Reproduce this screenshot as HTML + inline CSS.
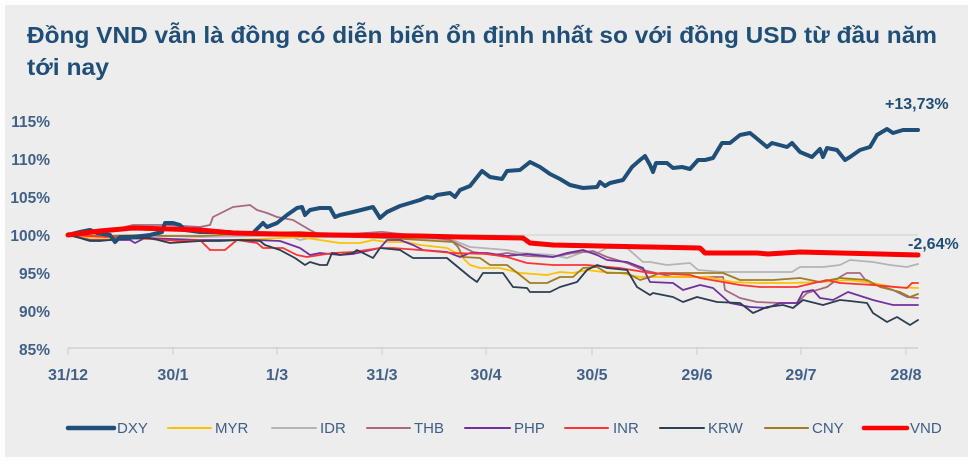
<!DOCTYPE html>
<html>
<head>
<meta charset="utf-8">
<style>
  html,body{margin:0;padding:0;background:#ffffff;}
  svg{display:block;}
  text{font-family:"Liberation Sans","DejaVu Sans",sans-serif;}
</style>
</head>
<body>
<svg width="975" height="464" viewBox="0 0 975 464" xmlns="http://www.w3.org/2000/svg">
  <rect x="0" y="0" width="975" height="464" fill="#ffffff"/>
  <rect x="5" y="5" width="963" height="452" fill="#ededed"/>

  <!-- Title -->
  <text x="27" y="43" font-size="23" font-weight="bold" fill="#1f4e79" textLength="910" lengthAdjust="spacingAndGlyphs">Đồng VND vẫn là đồng có diễn biến ổn định nhất so với đồng USD từ đầu năm</text>
  <text x="27" y="75" font-size="23" font-weight="bold" fill="#1f4e79" textLength="82" lengthAdjust="spacingAndGlyphs">tới nay</text>

  <!-- Y axis labels -->
  <g font-size="15.5" font-weight="bold" fill="#41618a" text-anchor="end">
    <text x="50" y="127">115%</text>
    <text x="50" y="165">110%</text>
    <text x="50" y="203">105%</text>
    <text x="50" y="241">100%</text>
    <text x="50" y="279">95%</text>
    <text x="50" y="317">90%</text>
    <text x="50" y="355">85%</text>
  </g>

  <!-- gridline 100% -->
  <line x1="68" y1="235" x2="918" y2="235" stroke="#d6d6d6" stroke-width="1.2"/>
  <!-- x axis -->
  <line x1="68" y1="348" x2="918" y2="348" stroke="#d0d0d0" stroke-width="1.5"/>
  <g stroke="#d0d0d0" stroke-width="1.2">
    <line x1="68" y1="348" x2="68" y2="355"/>
    <line x1="173" y1="348" x2="173" y2="355"/>
    <line x1="277" y1="348" x2="277" y2="355"/>
    <line x1="382" y1="348" x2="382" y2="355"/>
    <line x1="486" y1="348" x2="486" y2="355"/>
    <line x1="592" y1="348" x2="592" y2="355"/>
    <line x1="697" y1="348" x2="697" y2="355"/>
    <line x1="801" y1="348" x2="801" y2="355"/>
    <line x1="906" y1="348" x2="906" y2="355"/>
  </g>
  <g font-size="16" font-weight="bold" fill="#41618a" text-anchor="middle">
    <text x="68" y="380">31/12</text>
    <text x="173" y="380">30/1</text>
    <text x="277" y="380">1/3</text>
    <text x="382" y="380">31/3</text>
    <text x="486" y="380">30/4</text>
    <text x="592" y="380">30/5</text>
    <text x="697" y="380">29/6</text>
    <text x="801" y="380">29/7</text>
    <text x="906" y="380">28/8</text>
  </g>

  <g fill="none" stroke-linejoin="round" stroke-linecap="round">
    <!-- IDR -->
    <polyline stroke="#b4b4b4" stroke-width="1.8" points="68,235 120,237 170,236 200,237 260,236 290,236 300,240 310,238 320,237 387,237 453,240 470,247 507,250 520,253 553,255 567,258 583,252 597,253 607,248 627,248 643,262 650,262 667,265 690,263 698,270 723,272 757,272 792,272 800,267 823,267 840,265 850,260 873,262 890,265 907,267 918,264"/>
    <!-- THB -->
    <polyline stroke="#a86880" stroke-width="1.8" points="68,235 100,233 133,225 167,225 200,227 210,225 213,217 233,207 250,205 257,210 267,213 277,217 293,220 310,230 320,235 350,234 380,232 383,232 420,236 450,240 463,247 473,252 493,255 507,253 527,256 553,257 573,253 593,251 607,257 627,263 643,270 673,277 700,277 723,277 725,290 740,298 757,302 780,303 797,303 807,293 817,290 827,287 840,277 847,273 860,273 867,282 877,285 893,290 907,297 918,298"/>
    <!-- MYR -->
    <polyline stroke="#ffc000" stroke-width="1.8" points="68,235 90,238 130,238 150,239 200,241 260,239 300,237 320,240 340,243 360,243 373,240 387,242 407,242 420,245 447,248 460,255 470,265 480,268 500,268 520,273 547,275 560,272 573,273 587,270 603,272 620,273 640,277 673,277 707,277 733,282 757,283 790,283 823,282 847,280 873,283 893,287 918,288"/>
    <!-- CNY -->
    <polyline stroke="#9e7d24" stroke-width="1.8" points="68,235 100,236 150,235 165,236 200,236 260,233 300,232 330,234 353,237 387,238 420,240 453,242 458,247 463,257 480,258 490,265 507,265 520,275 530,283 547,283 560,277 573,277 583,268 597,267 607,273 627,273 640,280 650,277 660,273 723,273 740,280 773,280 800,278 820,282 840,278 867,280 880,287 900,292 910,297 918,294"/>
    <!-- PHP -->
    <polyline stroke="#7030a0" stroke-width="1.8" points="68,235 90,240 130,240 135,243 145,238 200,240 230,240 255,240 280,241 300,248 310,255 320,253 340,255 353,254 380,248 387,240 400,240 413,245 423,250 447,252 460,257 470,253 487,253 507,256 527,254 553,257 567,253 583,250 597,255 607,260 627,262 643,268 650,282 673,283 683,290 700,285 713,288 730,303 750,307 767,308 780,303 797,303 803,292 813,290 820,298 833,300 848,292 873,300 893,305 918,305"/>
    <!-- INR -->
    <polyline stroke="#ff3333" stroke-width="1.8" points="68,235 150,239 180,241 200,240 210,250 225,250 237,240 257,243 263,248 283,248 297,255 307,257 320,255 333,253 353,252 380,248 393,248 420,250 453,253 487,254 507,257 527,263 553,265 587,265 620,268 650,273 690,275 700,278 740,285 760,287 797,287 827,280 840,283 873,285 907,288 912,283 918,283"/>
    <!-- KRW -->
    <polyline stroke="#2c3e50" stroke-width="1.8" points="68,235 80,238 90,241 100,241 120,239 150,238 170,243 200,241 220,241 240,240 260,241 265,245 280,250 295,258 305,265 310,262 320,265 327,265 332,253 340,255 353,253 357,250 373,258 380,248 400,250 413,258 447,258 453,263 470,277 477,282 483,273 503,273 513,287 527,288 530,292 550,292 560,287 577,282 587,270 597,265 607,268 627,270 637,287 650,295 653,293 673,297 683,302 697,297 717,302 740,303 753,313 767,307 783,305 793,308 803,300 823,305 840,300 850,301 867,303 873,313 887,322 897,317 910,325 918,320"/>
    <!-- DXY -->
    <polyline stroke="#1f4e79" stroke-width="4" points="68,235 80,232 90,230 97,233 110,235 115,242 120,237 133,237 150,235 162,232 165,223 173,223 180,225 185,230 200,232 227,232 240,233 253,233 258,228 263,223 267,227 277,223 287,215 297,208 302,207 305,215 310,210 320,208 330,208 335,217 340,215 353,212 373,207 380,218 387,212 400,206 420,200 427,197 433,198 437,195 450,193 455,197 460,190 470,186 482,171 490,177 502,179 507,171 520,170 530,162 540,167 550,174 560,179 570,185 583,188 597,187 600,182 605,186 610,183 623,180 632,167 640,160 645,156 650,165 653,172 656,163 667,163 673,168 682,167 690,169 698,160 705,160 713,158 722,143 730,143 740,135 750,133 755,137 767,147 772,143 787,147 792,143 800,152 812,157 820,149 823,157 827,148 837,150 845,160 850,157 860,150 870,147 877,135 887,129 893,133 903,130 918,130"/>
    <!-- VND -->
    <polyline stroke="#ff0000" stroke-width="5" points="68,235 100,231 133,228 170,229 200,230 233,233 280,234 333,235 420,236 460,237 523,238 530,243 553,245 650,247 700,248 705,253 757,253 768,254 800,252 840,253 918,255"/>
  </g>

  <!-- End labels -->
  <text x="885" y="109" font-size="16" font-weight="bold" fill="#1f4e79">+13,73%</text>
  <text x="908" y="249" font-size="16" font-weight="bold" fill="#1f4e79">-2,64%</text>

  <!-- Legend -->
  <g stroke-linecap="round">
    <line x1="68" y1="428" x2="114" y2="428" stroke="#1f4e79" stroke-width="4.5"/>
    <line x1="168" y1="428" x2="211" y2="428" stroke="#ffc000" stroke-width="2"/>
    <line x1="272" y1="428" x2="316" y2="428" stroke="#b4b4b4" stroke-width="2"/>
    <line x1="367" y1="428" x2="410" y2="428" stroke="#a86880" stroke-width="2"/>
    <line x1="465" y1="428" x2="510" y2="428" stroke="#7030a0" stroke-width="2"/>
    <line x1="565" y1="428" x2="608" y2="428" stroke="#ff3333" stroke-width="2"/>
    <line x1="660" y1="428" x2="704" y2="428" stroke="#2c3e50" stroke-width="2"/>
    <line x1="765" y1="428" x2="808" y2="428" stroke="#9e7d24" stroke-width="2"/>
    <line x1="864" y1="428" x2="907" y2="428" stroke="#ff0000" stroke-width="4.5"/>
  </g>
  <g font-size="15" fill="#3e5f86">
    <text x="117" y="433">DXY</text>
    <text x="215" y="433">MYR</text>
    <text x="320" y="433">IDR</text>
    <text x="414" y="433">THB</text>
    <text x="514" y="433">PHP</text>
    <text x="613" y="433">INR</text>
    <text x="708" y="433">KRW</text>
    <text x="812" y="433">CNY</text>
    <text x="910" y="433">VND</text>
  </g>
</svg>
</body>
</html>
